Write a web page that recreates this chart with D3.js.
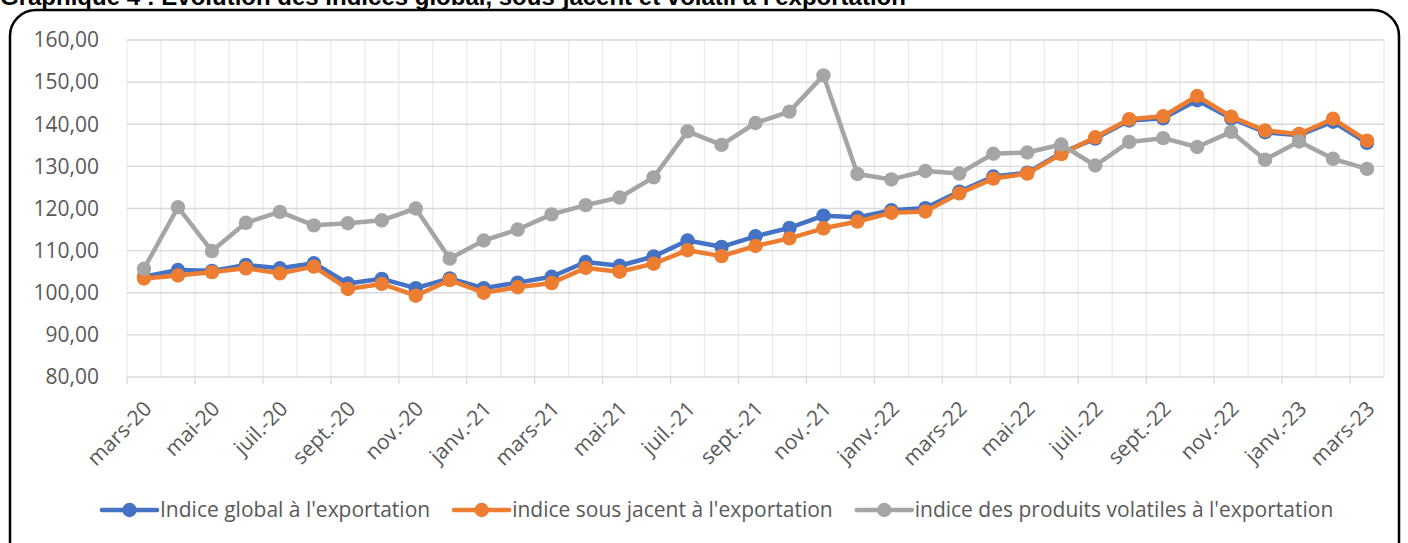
<!DOCTYPE html>
<html>
<head>
<meta charset="utf-8">
<script src="https://cdn.jsdelivr.net/npm/d3@7"></script>
<style>
  body { margin: 0; background: #fff; }
  svg { display: block; }
</style>
</head>
<body>
<div class="chart-area"></div>
<script>
const width = 1408
const height = 543
const margin = { top: 40, right: 24, bottom: 166, left: 127 }

const months = ["mars-20","avr.-20","mai-20","juin-20","juil.-20","août-20","sept.-20","oct.-20","nov.-20","déc.-20",
  "janv.-21","févr.-21","mars-21","avr.-21","mai-21","juin-21","juil.-21","août-21","sept.-21","oct.-21","nov.-21","déc.-21",
  "janv.-22","févr.-22","mars-22","avr.-22","mai-22","juin-22","juil.-22","août-22","sept.-22","oct.-22","nov.-22","déc.-22",
  "janv.-23","févr.-23","mars-23"]

const globalIdx = [103.8,105.4,105.2,106.6,105.8,107.0,102.2,103.3,101.1,103.4,101.1,102.4,103.8,107.3,106.4,108.6,112.4,110.9,113.4,115.4,118.3,117.9,
  119.6,120.1,124.0,127.6,128.5,133.2,136.6,140.9,141.4,145.7,141.4,138.1,137.4,140.6,135.6]
const sousJacent = [103.4,104.1,104.9,105.8,104.6,106.2,100.9,102.1,99.3,103.0,100.0,101.3,102.3,105.9,105.0,106.9,110.1,108.7,111.1,112.9,115.3,116.9,
  119.0,119.3,123.6,127.1,128.3,132.9,136.9,141.2,141.9,146.7,141.8,138.5,137.7,141.3,136.1]
const volatils = [105.7,120.3,109.9,116.6,119.2,116.0,116.5,117.2,120.0,108.1,112.4,115.0,118.6,120.8,122.6,127.4,138.3,135.1,140.3,143.0,151.6,128.2,
  126.9,128.9,128.3,133.0,133.3,135.2,130.2,135.8,136.7,134.6,138.2,131.6,135.9,131.8,129.4]

const yTicks = [80,90,100,110,120,130,140,150,160]
const seriesNames = ["Indice global à l'exportation","indice sous jacent à l'exportation","indice des produits volatiles à l'exportation"]
const colors = ["#4472C4","#ED7D31","#A5A5A5"]
const series = [globalIdx, sousJacent, volatils]

const fmt = v => d3.format(".2f")(v).replace(".", ",")
const font = "Open Sans, sans-serif"
const fontSize = 21

const svg = d3.select(".chart-area").append("svg")
  .attr("width", width)
  .attr("height", height)
  .attr("viewBox", [0, 0, width, height])

// frame
svg.append("rect")
  .attr("x", 10).attr("y", 10)
  .attr("width", 1389).attr("height", 560)
  .attr("rx", 26).attr("ry", 26)
  .attr("fill", "none")
  .attr("stroke", "#000")
  .attr("stroke-width", 2.5)

// title, its top is cut off by the page edge in the source
svg.append("text")
  .attr("x", 0).attr("y", 5)
  .attr("font-family", "Liberation Sans, Arial, sans-serif")
  .attr("font-weight", "bold")
  .attr("font-size", 24)
  .attr("fill", "#000")
  .text("Graphique 4 : Evolution des indices global, sous-jacent et volatil à l'exportation")

const x = d3.scaleBand()
  .domain(months)
  .range([margin.left, width - margin.right])
  .padding(0)

const y = d3.scaleLinear()
  .domain([80, 160])
  .range([height - margin.bottom, margin.top])

const cx = m => x(m) + x.bandwidth() / 2

// vertical grid at each category boundary
const bounds = months.map(m => x(m)).concat([width - margin.right])
svg.append("g")
  .selectAll("line")
  .data(bounds)
  .join("line")
  .attr("x1", d => d).attr("x2", d => d)
  .attr("y1", y(160)).attr("y2", y(80))
  .attr("stroke", "#ebebeb")
  .attr("stroke-width", 1.3)

// horizontal grid
svg.append("g")
  .selectAll("line")
  .data(yTicks)
  .join("line")
  .attr("x1", margin.left).attr("x2", width - margin.right)
  .attr("y1", d => y(d)).attr("y2", d => y(d))
  .attr("stroke", "#d9d9d9")
  .attr("stroke-width", 1.3)

// y labels
svg.append("g")
  .selectAll("text")
  .data(yTicks)
  .join("text")
  .attr("x", 99)
  .attr("y", d => y(d))
  .attr("dy", "0.35em")
  .attr("text-anchor", "end")
  .attr("font-family", font)
  .attr("font-size", fontSize)
  .attr("fill", "#595959")
  .text(fmt)

// x tick marks every 2 categories
const tickBounds = bounds.filter((d, i) => i % 2 === 0)
svg.append("g")
  .selectAll("line")
  .data(tickBounds)
  .join("line")
  .attr("x1", d => d).attr("x2", d => d)
  .attr("y1", y(80)).attr("y2", y(80) + 7)
  .attr("stroke", "#d9d9d9")
  .attr("stroke-width", 1.3)

// x labels
svg.append("g")
  .selectAll("text")
  .data(months.filter((d, i) => i % 2 === 0))
  .join("text")
  .attr("transform", d => `translate(${cx(d) + 9},${y(80) + 33}) rotate(-45)`)
  .attr("text-anchor", "end")
  .attr("font-family", font)
  .attr("font-size", fontSize)
  .attr("fill", "#595959")
  .text(d => d)

// series
const line = d3.line()
  .x((d, i) => cx(months[i]))
  .y(d => y(d))

series.forEach((s, k) => {
  const g = svg.append("g")
  g.append("path")
    .datum(s)
    .attr("d", line)
    .attr("fill", "none")
    .attr("stroke", colors[k])
    .attr("stroke-width", 4.5)
    .attr("stroke-linejoin", "round")
  g.selectAll("circle")
    .data(s)
    .join("circle")
    .attr("cx", (d, i) => cx(months[i]))
    .attr("cy", d => y(d))
    .attr("r", 7.2)
    .attr("fill", colors[k])
})

// legend
const legend = svg.append("g")
const legendY = 510
let lx = 102
seriesNames.forEach((name, k) => {
  const item = legend.append("g")
  item.append("line")
    .attr("x1", lx).attr("x2", lx + 55)
    .attr("y1", legendY).attr("y2", legendY)
    .attr("stroke", colors[k])
    .attr("stroke-width", 4.5)
    .attr("stroke-linecap", "round")
  item.append("circle")
    .attr("cx", lx + 27.5).attr("cy", legendY)
    .attr("r", 7.2)
    .attr("fill", colors[k])
  const t = item.append("text")
    .attr("x", lx + 58)
    .attr("y", legendY)
    .attr("dy", "0.35em")
    .attr("font-family", font)
    .attr("font-size", fontSize)
    .attr("fill", "#595959")
    .text(name)
  lx += 58 + t.node().getComputedTextLength() + 24
})
</script>
</body>
</html>
